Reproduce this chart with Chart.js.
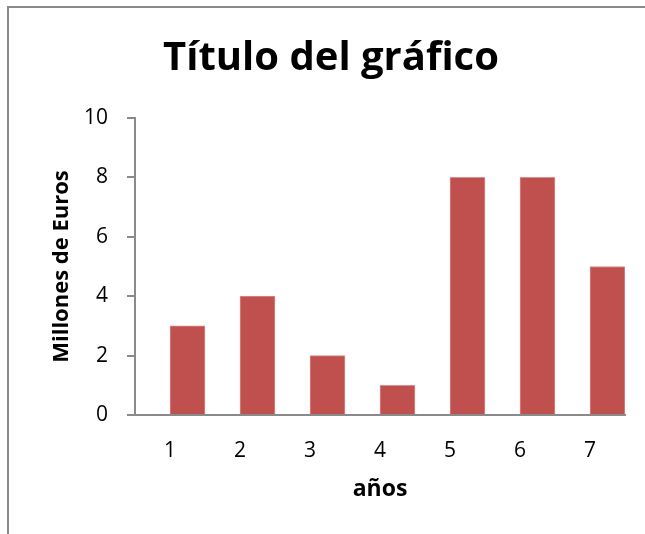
<!DOCTYPE html>
<html>
<head>
<meta charset="utf-8">
<script src="https://cdn.jsdelivr.net/npm/chart.js@4"></script>
<style>
  html, body { margin: 0; padding: 0; background: #fff; }
  #wrap { position: relative; width: 645px; height: 534px; overflow: hidden; }
  #frame {
    position: absolute; left: 7px; top: 6px; width: 700px; height: 600px;
    border-left: 2px solid #8a8a8a; border-top: 2px solid #8a8a8a;
  }
  canvas { position: absolute; left: 0; top: 0; }
</style>
</head>
<body>
<div id="wrap">
  <div id="frame"></div>
  <canvas id="myChart" width="645" height="534"></canvas>
</div>
<script>
const categories = ['1', '2', '3', '4', '5', '6', '7'];
const values = [3, 4, 2, 1, 8, 8, 5];
const yTicks = [0, 2, 4, 6, 8, 10];
// empty slot so the bars sit just right of each label, like the original
const gapValues = [null, null, null, null, null, null, null];

const fontFamily = "'Open Sans', sans-serif";
const axisGray = '#8a8a8a';

const ctx = document.getElementById('myChart').getContext('2d');

const myChart = new Chart(ctx, {
    type: 'bar',
    data: {
        labels: categories,
        datasets: [
            {
                label: '',
                data: gapValues,
                backgroundColor: 'rgba(0,0,0,0)',
                barPercentage: 1.0,
                categoryPercentage: 1.0
            },
            {
                label: 'Serie 1',
                data: values,
                backgroundColor: '#c0504d',
                borderColor: '#d88e8c',
                borderWidth: 1,
                barPercentage: 1.0,
                categoryPercentage: 1.0
            }
        ]
    },
    options: {
        responsive: false,
        animation: false,
        layout: {
            padding: { left: 37, right: 20, top: 0, bottom: 0 }
        },
        plugins: {
            legend: { display: false },
            tooltip: { enabled: false },
            title: {
                display: true,
                text: 'Título del gráfico',
                color: '#000',
                font: { family: fontFamily, size: 40, weight: 'bold' },
                padding: { top: 35, bottom: 35 }
            }
        },
        scales: {
            x: {
                grid: { display: false, drawTicks: false },
                border: { display: true, color: axisGray, width: 2 },
                ticks: {
                    color: '#000',
                    font: { family: fontFamily, size: 21 },
                    padding: 23,
                    maxRotation: 0
                },
                title: {
                    display: true,
                    text: 'años',
                    color: '#000',
                    font: { family: fontFamily, size: 23, weight: 'bold' },
                    padding: { top: 0, bottom: 31 }
                },
                afterFit: function(scale) {
                    scale.height = 119;
                }
            },
            y: {
                min: 0,
                max: 10,
                afterBuildTicks: function(scale) {
                    scale.ticks = yTicks.map(v => ({ value: v }));
                },
                grid: {
                    drawOnChartArea: false,
                    color: axisGray,
                    lineWidth: 2,
                    tickLength: 8
                },
                border: { display: true, color: axisGray, width: 2 },
                ticks: {
                    color: '#000',
                    font: { family: fontFamily, size: 21 },
                    padding: 19
                },
                title: {
                    display: true,
                    text: 'Millones de Euros',
                    color: '#000',
                    font: { family: fontFamily, size: 22, weight: 'bold' },
                    padding: { top: 12, bottom: 0 }
                },
                afterFit: function(scale) {
                    scale.width = 98;
                }
            }
        }
    }
});
</script>
</body>
</html>
